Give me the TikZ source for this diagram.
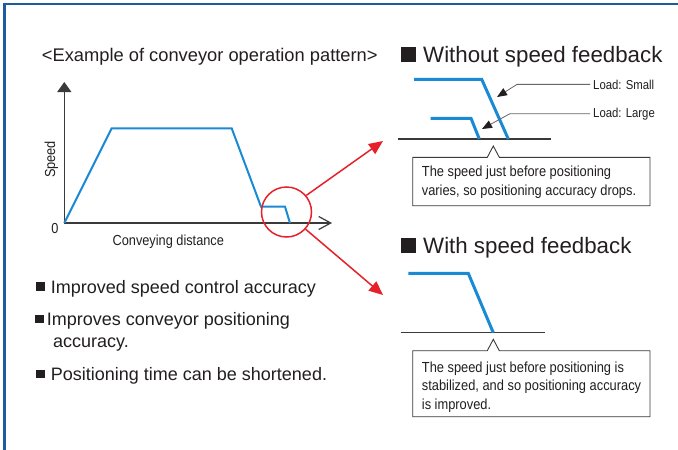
\documentclass[tikz,border=0pt]{standalone}
\usepackage{fontspec}
\setmainfont{Liberation Sans}
\newfontfamily\condfont[FakeStretch=0.88]{Liberation Sans}
\usetikzlibrary{arrows.meta}
\definecolor{framecol}{HTML}{1B5E9E}
\definecolor{profblue}{HTML}{1A8AD4}
\definecolor{redc}{HTML}{E52229}
\definecolor{txt}{HTML}{231F20}
\definecolor{axisc}{HTML}{3A3A3A}
\definecolor{leadc}{HTML}{666666}
\begin{document}
\begin{tikzpicture}[x=1pt,y=-1pt,
  lbl/.style={inner sep=0pt, anchor=base west, text=txt},
  titlefont/.style={font=\fontsize{18.3}{22}\selectfont},
  headfont/.style={font=\fontsize{22.3}{26}\selectfont},
  bulletfont/.style={font=\fontsize{18}{22}\selectfont},
  smallfont/.style={font=\condfont\fontsize{14.6}{18.5}\selectfont},
  axisfont/.style={font=\condfont\fontsize{14.5}{14}\selectfont},
  loadfont/.style={font=\condfont\fontsize{12.9}{14}\selectfont},
  headsq/.style={fill=txt, minimum size=15pt, inner sep=0pt},
  bulsq/.style={fill=txt, minimum size=8.5pt, inner sep=0pt},
  axisline/.style={draw=axisc, line width=1.2pt},
  profile/.style={draw=profblue, line width=2pt, line join=miter},
  profilethick/.style={draw=profblue, line width=3pt, line join=miter},
  redarrow/.style={draw=redc, line width=1.5pt, -{Triangle[length=14pt,width=12pt]}},
  leader/.style={draw=leadc, line width=0.8pt, -{Triangle[length=10pt,width=8pt,color=txt]}},
  callout/.style={draw=axisc, line width=0.9pt, fill=white, line join=miter}
]
\useasboundingbox (0,0) rectangle (678,450);
\fill[white] (0,0) rectangle (678,450);
% frame
\draw[framecol, line width=2.7pt] (3,4) -- (678,4);
\draw[framecol, line width=2.7pt] (4.6,3) -- (4.6,450);

% title
\node[lbl, titlefont] (title) at (41.7,61) {<Example of conveyor operation pattern>};

% graph
\coordinate (O) at (64.3,223);
\coordinate (ytop) at (64.3,82);
\coordinate (xend) at (332,223);
\draw[axisline, -{Triangle[length=10pt,width=14pt]}] (O) -- (ytop);
\draw[axisline, -{Straight Barb[length=12pt,width=13pt]}] (O) -- (xend);
\coordinate (p1) at (111.7,128.3);
\coordinate (p2) at (231.7,128.3);
\coordinate (p3) at (261,206.7);
\coordinate (p4) at (285,206.7);
\coordinate (p5) at (290,223);
\draw[profile] (O) -- (p1) -- (p2) -- (p3) -- (p4) -- (p5);
\node[inner sep=0pt, anchor=base, rotate=90, axisfont, text=txt] (speed) at (55,159.5) {Speed};
\node[inner sep=0pt, anchor=base, axisfont, text=txt] (zero) at (55,233) {0};
\node[inner sep=0pt, anchor=base, axisfont, text=txt] (convd) at (168.3,245) {Conveying distance};

% red circle and arrows
\node[draw=redc, circle, line width=1.5pt, minimum size=50pt, inner sep=0pt] (zoomc) at (286.5,212) {};
\coordinate (tipA) at (383,141);
\coordinate (tipB) at (383,295);
\draw[redarrow] (zoomc.40) -- (tipA);
\draw[redarrow] (zoomc.-42) -- (tipB);

% bullets
\node[bulsq] (b1) at (40.5,286.5) {};
\node[lbl, bulletfont] (bt1) at (50.7,293) {Improved speed control accuracy};
\node[bulsq] (b2) at (39.5,319) {};
\node[lbl, bulletfont] (bt2) at (46.7,325) {Improves conveyor positioning};
\node[lbl, bulletfont] (bt2b) at (53,347.5) {accuracy.};
\node[bulsq] (b3) at (40.5,374) {};
\node[lbl, bulletfont] (bt3) at (50.7,380) {Positioning time can be shortened.};

% header 1
\node[headsq] (sq1) at (408.5,54.5) {};
\node[lbl, headfont] (h1) at (423,62) {Without speed feedback};

% top-right diagram
\coordinate (g1a) at (398,139);
\coordinate (g1b) at (551,139);
\draw[axisline] (g1a) -- (g1b);
\coordinate (s1) at (414,79.3);
\coordinate (s2) at (481.7,79.3);
\coordinate (s3) at (508.3,139);
\draw[profilethick] (s1) -- (s2) -- (s3);
\coordinate (l1) at (430.7,118.3);
\coordinate (l2) at (471,118.3);
\coordinate (l3) at (479.3,139);
\draw[profilethick] (l1) -- (l2) -- (l3);

\node[lbl, loadfont] (lsmall) at (593,89) {Load: Small};
\node[lbl, loadfont] (llarge) at (593,117) {Load: Large};
\coordinate (kS) at (517,84);
\coordinate (tipS) at (497,97);
\coordinate (kL) at (510,112);
\coordinate (tipL) at (482,129);
\draw[leader] ([xshift=-3pt]lsmall.west) -- (lsmall.west -| kS) -- (tipS);
\draw[leader] ([xshift=-3pt]llarge.west) -- (llarge.west -| kL) -- (tipL);

% callout 1 (base anchor = baseline of last line)
\draw[callout] (412.7,157.3) -- (487.3,157.3) -- (493.3,146) -- (499.3,157.3) -- (650,157.3) -- (650,205.7) -- (412.7,205.7) -- cycle;
\node[lbl, smallfont, align=left] (c1) at (421.7,195) {The speed just before positioning\\varies, so positioning accuracy drops.};

% header 2
\node[headsq] (sq2) at (408.5,245.5) {};
\node[lbl, headfont] (h2) at (423,253) {With speed feedback};

% bottom-right diagram
\coordinate (g2a) at (400.7,332.7);
\coordinate (g2b) at (545,332.7);
\draw[axisline] (g2a) -- (g2b);
\coordinate (w1) at (408.3,273.3);
\coordinate (w2) at (468.3,273.3);
\coordinate (w3) at (493.3,332.7);
\draw[profilethick] (w1) -- (w2) -- (w3);

% callout 2
\draw[callout] (412.7,350.7) -- (487.3,350.7) -- (493.3,339.3) -- (499.3,350.7) -- (650,350.7) -- (650,416.7) -- (412.7,416.7) -- cycle;
\node[lbl, smallfont, align=left] (c2) at (421.7,409) {The speed just before positioning is\\stabilized, and so positioning accuracy\\is improved.};
\end{tikzpicture}
\end{document}
